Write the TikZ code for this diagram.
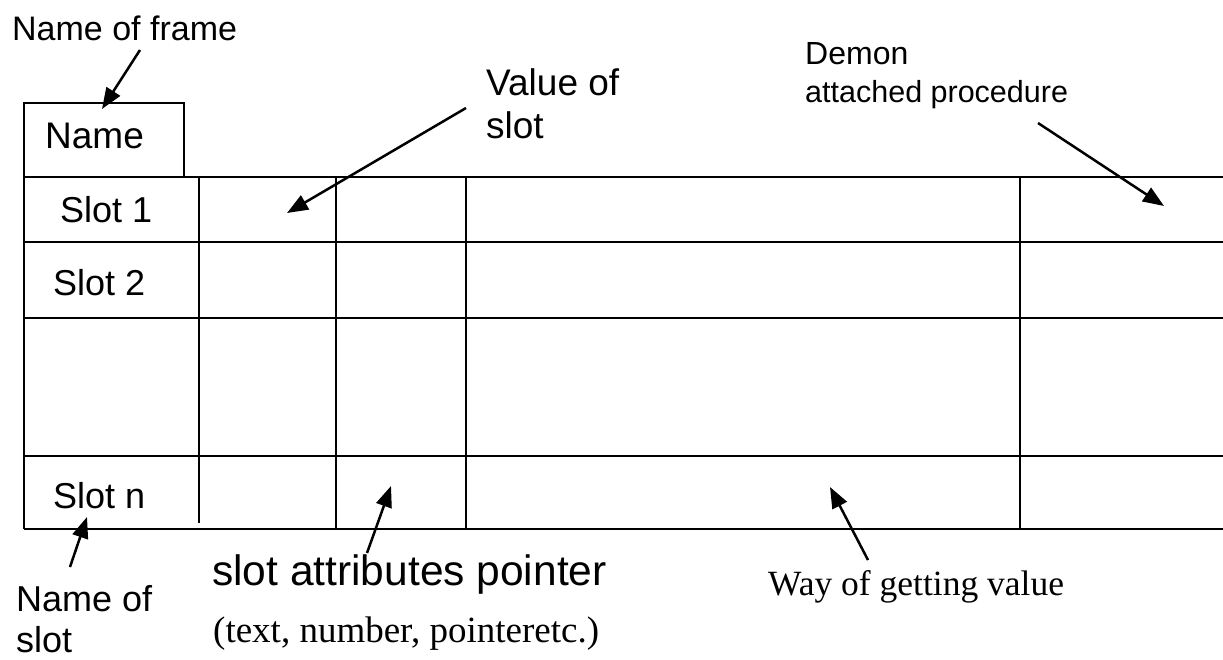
\documentclass[tikz,border=0pt]{standalone}
\usepackage{fontspec}
\setmainfont{Liberation Sans}
\newfontfamily\camserif{Liberation Serif}
\usetikzlibrary{arrows.meta}
\begin{document}
\begin{tikzpicture}[x=1pt,y=-1pt,
  grid/.style={line width=2pt, black},
  lbl/.style={anchor=base west, inner sep=0pt, font=\fontsize{36}{42}\selectfont},
  serlbl/.style={anchor=base west, inner sep=0pt, font=\camserif\fontsize{36}{42}\selectfont},
  ptr/.style={line width=2.5pt, -{Triangle[length=21pt,width=16pt]}}]
\useasboundingbox (0,0) rectangle (1223,659);

% frame name box and table grid
\draw[grid] (24,103) rectangle (184,177);
\foreach \y in {177,242,318,456,529} \draw[grid] (24,\y) -- (1223,\y);
\draw[grid] (24,177) -- (24,529);
\draw[grid] (199,177) -- (199,523);
\foreach \x in {336,466,1020} \draw[grid] (\x,177) -- (\x,529);

% labels
\node[lbl, font=\fontsize{34}{40}\selectfont] (frame) at (12,40) {Name of frame};
\node[lbl, font=\fontsize{37}{44}\selectfont] (name) at (45,148) {Name};
\node[lbl] (s1) at (60,222) {Slot 1};
\node[lbl] (s2) at (53,295) {Slot 2};
\node[lbl] (sn) at (53,508) {Slot n};
\node[lbl, font=\fontsize{37}{44}\selectfont] (val1) at (486,95) {Value of};
\node[lbl, font=\fontsize{37}{44}\selectfont] (val2) at (486,138) {slot};
\node[lbl, font=\fontsize{32}{38}\selectfont] (demon) at (805,64) {Demon};
\node[lbl, font=\fontsize{30.5}{36}\selectfont] (attp) at (805,102) {attached procedure};
\node[lbl, font=\fontsize{42.5}{50}\selectfont] (attr) at (212,585) {slot attributes pointer};
\node[serlbl, font=\camserif\fontsize{37}{44}\selectfont] (types) at (213,642) {(text, number, pointeretc.)};
\node[serlbl, font=\camserif\fontsize{35.5}{42}\selectfont] (way) at (768,595) {Way of getting value};
\node[lbl] (nos1) at (16,611) {Name of};
\node[lbl] (nos2) at (16,652) {slot};

% arrow end points
\coordinate (fA) at (140,50);   \coordinate (fB) at (102,109);
\coordinate (vA) at (466,108);  \coordinate (vB) at (287,213);
\coordinate (dA) at (1038,123); \coordinate (dB) at (1164,206);
\coordinate (nA) at (70,567);   \coordinate (nB) at (87,517);
\coordinate (aA) at (367,553);  \coordinate (aB) at (391,486);
\coordinate (wA) at (868,560);  \coordinate (wB) at (830,487);

\draw[ptr] (fA) -- (fB);
\draw[ptr] (vA) -- (vB);
\draw[ptr] (dA) -- (dB);
\draw[ptr] (nA) -- (nB);
\draw[ptr] (aA) -- (aB);
\draw[ptr] (wA) -- (wB);
\end{tikzpicture}
\end{document}
